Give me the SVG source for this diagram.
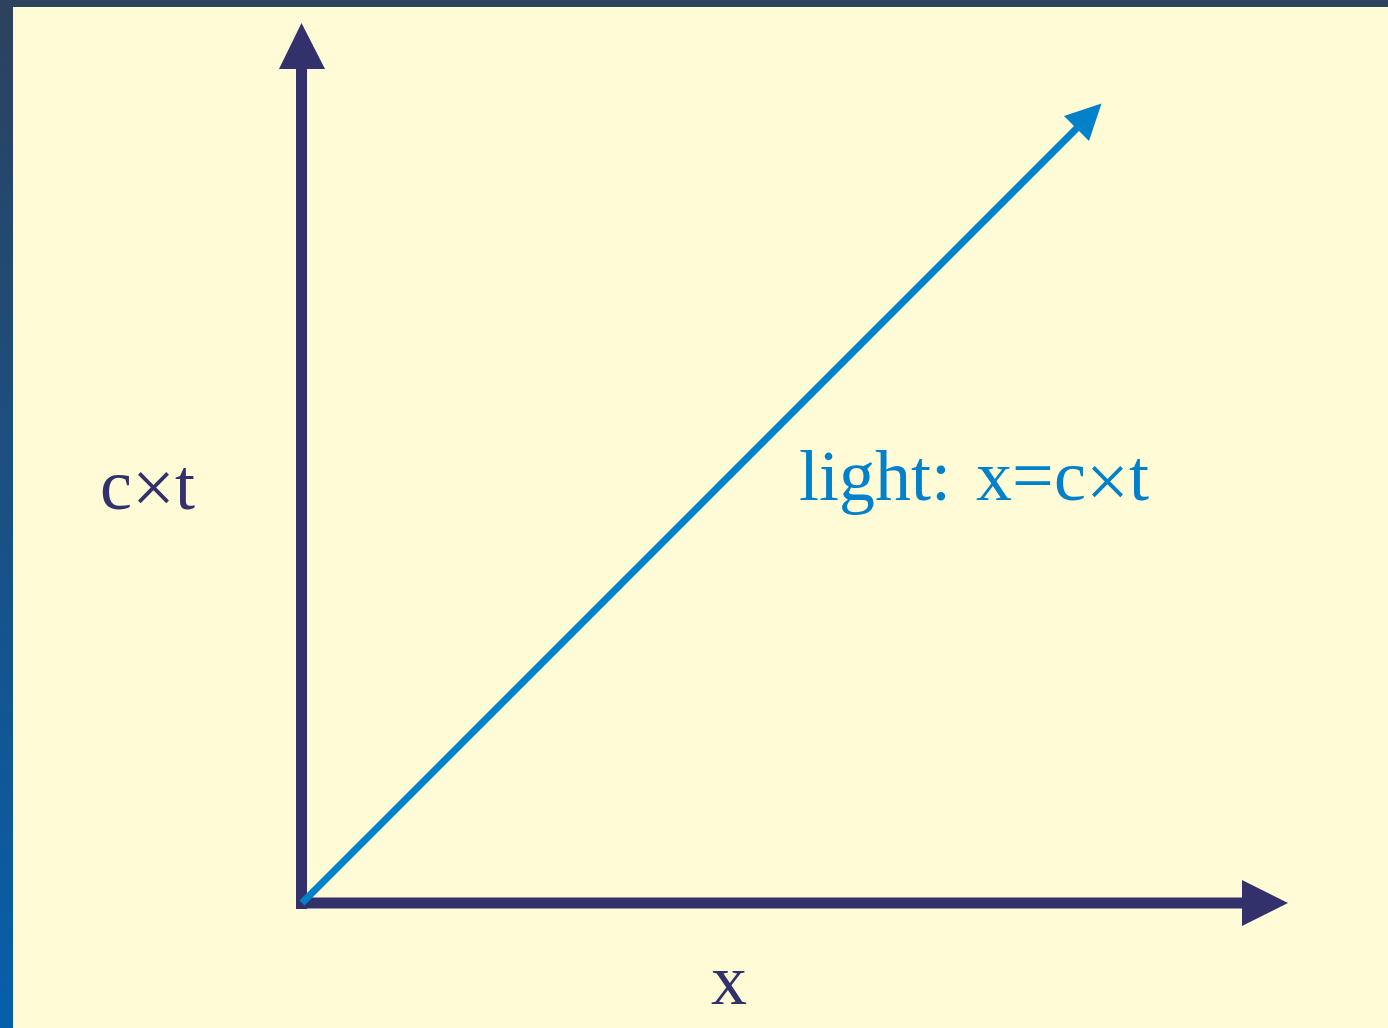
<svg xmlns="http://www.w3.org/2000/svg" width="1388" height="1028" viewBox="0 0 1388 1028">
  <defs>
    <linearGradient id="side" x1="0" y1="0" x2="0" y2="1">
      <stop offset="0" stop-color="#2c425e"/>
      <stop offset="1" stop-color="#065fab"/>
    </linearGradient>
    <style>
      .axis { stroke: #32316b; stroke-width: 11; fill: none; }
      .axhead { fill: #32316b; }
      .light { stroke: #0081c9; stroke-width: 7; fill: none; }
      .lighthead { fill: #0081c9; }
      .lbl { font-family: "Liberation Serif", "Times New Roman", serif; font-size: 72px; }
      .dark { fill: #32316b; }
      .blue { fill: #0081c9; }
    </style>
  </defs>
  <rect x="0" y="0" width="1388" height="1028" fill="url(#side)"/>
  <rect x="0" y="0" width="1388" height="7" fill="#2c425e"/>
  <rect x="13" y="7" width="1375" height="1021" fill="#fffbd7"/>

  <g id="connectors">
    <g id="ct-axis">
      <path class="axis" d="M301.5 909 V66"/>
      <polygon class="axhead" points="301.5,23 325,69 279,69"/>
    </g>
    <g id="x-axis">
      <path class="axis" d="M296 903 H1245"/>
      <polygon class="axhead" points="1288,903 1242,880 1242,926"/>
    </g>
    <g id="light-line">
      <path class="light" d="M302 903 L1079 126"/>
      <polygon class="lighthead" points="1101.5,103.5 1064,116 1089,141"/>
    </g>
  </g>

  <g id="label-ct">
    <text class="lbl dark" x="100" y="509">c</text>
    <text class="lbl dark" x="132" y="513" style="font-size:76px">×</text>
    <text class="lbl dark" x="175" y="509">t</text>
  </g>
  <g id="label-x">
    <text class="lbl dark" x="711" y="1004">x</text>
  </g>
  <g id="label-light">
    <text class="lbl blue" x="799" y="500">light:</text>
    <text class="lbl blue" x="976" y="500">x</text>
    <text class="lbl blue" x="1012" y="500" style="font-size:74px">=</text>
    <text class="lbl blue" x="1054" y="500">c</text>
    <text class="lbl blue" x="1086" y="507" style="font-size:76px">×</text>
    <text class="lbl blue" x="1129" y="500">t</text>
  </g>
</svg>
